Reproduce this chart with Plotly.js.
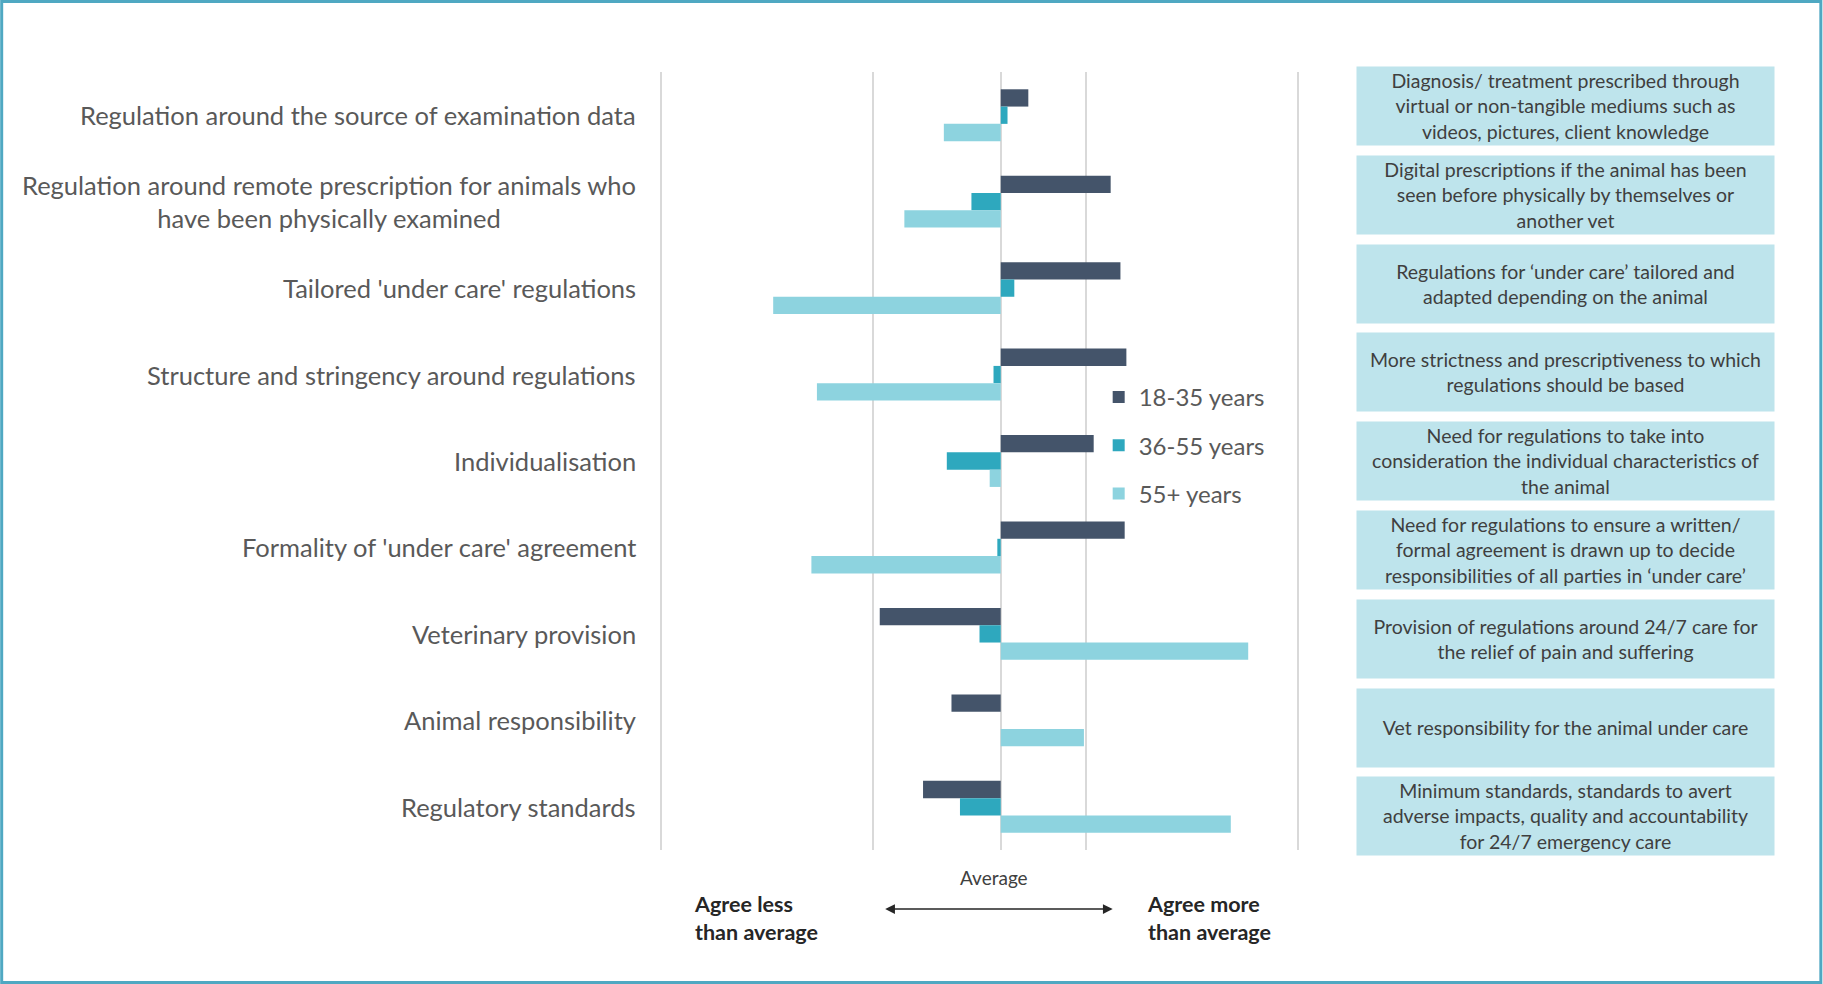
<!DOCTYPE html>
<html>
<head>
<meta charset="utf-8">
<script src="https://cdn.plot.ly/plotly-3.0.1.min.js"></script>
<style>
  html, body { margin: 0; padding: 0; background: #ffffff; }
  #chart { width: 1823px; height: 984px; }
</style>
</head>
<body>
<div id="chart"></div>
<script>
// ---------- data ----------
const categories = [
  "Regulation around the source of examination data",
  "Regulation around remote prescription for animals who<br>have been physically examined",
  "Tailored 'under care' regulations",
  "Structure and stringency around regulations",
  "Individualisation",
  "Formality of 'under care' agreement",
  "Veterinary provision",
  "Animal responsibility",
  "Regulatory standards"
];
const seriesNames = ["18-35 years", "36-55 years", "55+ years"];
// deviation from average agreement
const age18_35 = [0.065, 0.259, 0.282, 0.296, 0.219, 0.292, -0.285, -0.116, -0.183];
const age36_55 = [0.016, -0.069, 0.032, -0.017, -0.127, -0.008, -0.050, 0.000, -0.096];
const age55plus = [-0.134, -0.227, -0.536, -0.433, -0.026, -0.446, 0.583, 0.196, 0.542];
const descriptions = [
  "Diagnosis/ treatment prescribed through<br>virtual or non-tangible mediums such as<br>videos, pictures, client knowledge",
  "Digital prescriptions if the animal has been<br>seen before physically by themselves or<br>another vet",
  "Regulations for ‘under care’ tailored and<br>adapted depending on the animal",
  "More strictness and prescriptiveness to which<br>regulations should be based",
  "Need for regulations to take into<br>consideration the individual characteristics of<br>the animal",
  "Need for regulations to ensure a written/<br>formal agreement is drawn up to decide<br>responsibilities of all parties in ‘under care’",
  "Provision of regulations around 24/7 care for<br>the relief of pain and suffering",
  "Vet responsibility for the animal under care",
  "Minimum standards, standards to avert<br>adverse impacts, quality and accountability<br>for 24/7 emergency care"
];
const gridTicks = [-0.8, -0.3, 0.2, 0.7];
const xRange = [-0.805, 0.705];

// ---------- layout helpers ----------
const W = 1823, H = 984;
const unitPx = 424.7;                  // pixels per unit on the value axis
const zeroPx = 1001;                   // pixel position of the average line
const L = zeroPx + xRange[0] * unitPx; // left edge of plot area
const R = zeroPx + xRange[1] * unitPx; // right edge of plot area
const T = 72, B = 850;
const px = x => (x - L) / (R - L);
const py = y => (B - y) / (B - T);

const colors = ["#44546A", "#2EA8BE", "#8DD3DF"];
const values = [age18_35, age36_55, age55plus];

const traces = values.map((v, i) => ({
  type: "bar",
  orientation: "h",
  name: seriesNames[i],
  x: v,
  y: categories,
  marker: { color: colors[i] },
  legendgroup: "g" + i,
  hoverinfo: "x+name"
}));

const font = "Lato, 'Open Sans', sans-serif";
const annotations = [];

// category labels
categories.forEach(c => {
  annotations.push({
    xref: "paper", yref: "y", x: px(638), y: c,
    xanchor: "right", yanchor: "middle", align: "center",
    text: c, showarrow: false,
    font: { family: font, size: 25.5, color: "#595959" }
  });
});

// description boxes
descriptions.forEach((d, i) => {
  const top = 66 + i * 88.8;
  annotations.push({
    xref: "paper", yref: "paper", x: px(1356), y: py(top),
    xanchor: "left", yanchor: "top", align: "center", valign: "middle",
    width: 417, height: 77.5, borderpad: 0,
    bgcolor: "#BEE4EC",
    text: d, showarrow: false,
    font: { family: font, size: 19.5, color: "#3F3F3F" }
  });
});

// bottom texts
annotations.push({
  xref: "paper", yref: "paper", x: px(994), y: py(878),
  xanchor: "center", yanchor: "middle", text: "Average", showarrow: false,
  font: { family: font, size: 19, color: "#404040" }
});
annotations.push({
  xref: "paper", yref: "paper", x: px(692), y: py(918),
  xanchor: "left", yanchor: "middle", align: "left",
  text: "<b>Agree less<br>than average</b>", showarrow: false,
  font: { family: font, size: 21.5, color: "#262626" }
});
annotations.push({
  xref: "paper", yref: "paper", x: px(1145), y: py(918),
  xanchor: "left", yanchor: "middle", align: "left",
  text: "<b>Agree more<br>than average</b>", showarrow: false,
  font: { family: font, size: 21.5, color: "#262626" }
});
// double-headed arrow
annotations.push({
  xref: "paper", yref: "paper", x: px(1113), y: py(909),
  ax: 884 - 1113, ay: 0, text: "", showarrow: true,
  arrowside: "end+start",
  arrowhead: 2, arrowsize: 1.3, arrowwidth: 1.5, arrowcolor: "#262626",
  standoff: 0, startstandoff: 0
});

const layout = {
  width: W, height: H,
  margin: { l: L, r: W - R, t: T, b: H - B, pad: 0 },
  paper_bgcolor: "#ffffff",
  plot_bgcolor: "#ffffff",
  barmode: "group",
  bargap: 0.4,
  bargroupgap: 0,
  showlegend: true,
  legend: {
    x: px(1099), y: py(375), xanchor: "left", yanchor: "top",
    traceorder: "grouped", tracegroupgap: 14,
    bgcolor: "rgba(0,0,0,0)",
    font: { family: font, size: 24, color: "#595959" }
  },
  xaxis: {
    range: xRange,
    tickvals: gridTicks,
    showticklabels: false,
    showgrid: true, gridcolor: "#D9D9D9", gridwidth: 1.5,
    zeroline: true, zerolinecolor: "#D9D9D9", zerolinewidth: 1.5,
    showline: false, ticks: "", fixedrange: true
  },
  yaxis: {
    type: "category",
    autorange: "reversed",
    showticklabels: false, showgrid: false, zeroline: false,
    showline: false, ticks: "", fixedrange: true
  },
  annotations: annotations,
  shapes: [{
    type: "rect", xref: "paper", yref: "paper",
    x0: px(1.5), x1: px(1821.5), y0: py(1.5), y1: py(982.5),
    line: { color: "#4FA8C2", width: 3 }, fillcolor: "rgba(0,0,0,0)"
  }]
};

Plotly.newPlot("chart", traces, layout, { displayModeBar: false });
</script>
</body>
</html>
